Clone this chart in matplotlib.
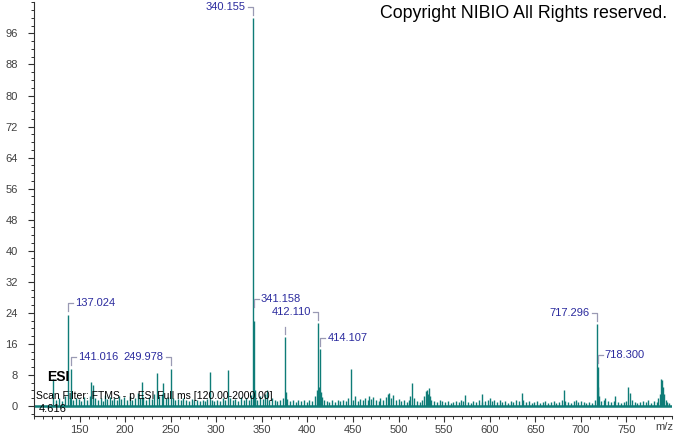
"""
Mass spectrum (ESI-) redrawn as a stick plot
"""

import matplotlib
matplotlib.use('Agg')
import matplotlib.pyplot as plt
from matplotlib.ticker import MultipleLocator, FixedLocator
from matplotlib.lines import Line2D
from matplotlib.transforms import IdentityTransform

# spectrum sticks (m/z, relative abundance)
mz = [121, 124, 127, 131, 134, 137.024, 139, 141.016, 143, 146, 149, 152, 155, 158,
      161, 163, 165, 167, 170, 173, 176, 178, 180, 183, 186, 188, 191, 193, 196, 199,
      202, 205, 208, 211, 214, 216, 218, 220, 223, 226, 229, 232, 235, 237, 240, 242,
      245, 247, 249.978, 252, 255, 258, 261, 264, 267, 270, 273, 276, 279, 282, 285,
      288, 290, 293, 295, 298, 301, 304, 307, 310, 313, 315, 318, 321, 324, 327, 330,
      333, 336, 338, 340.155, 341.158, 342, 343, 345, 348, 351, 353, 356, 358, 361,
      364, 367, 370, 373, 375.5, 376.5, 378, 381, 384, 387, 390, 393, 396, 399, 402,
      405, 408, 410, 412.110, 413, 414.107, 415, 416, 418, 421, 424, 427, 430, 433,
      436, 439, 442, 444, 447.5, 450, 452, 455, 458, 461, 463, 466, 468, 470, 472, 475,
      478, 480, 483, 486, 488, 490, 492, 494, 497, 500, 503, 506, 509, 511, 513, 515,
      517, 520, 523, 526, 528, 530, 531, 532, 533, 534, 536, 539, 542, 545, 548, 551,
      554, 557, 560, 563, 566, 569, 571, 573, 576, 579, 582, 585, 588, 591, 592, 595,
      598, 600, 602, 605, 608, 611, 614, 617, 620, 623, 626, 629, 632, 635, 637, 640,
      643, 646, 649, 652, 655, 658, 661, 664, 667, 670, 673, 676, 679, 681, 683, 686,
      689, 692, 695, 697, 700, 703, 706, 709, 712, 715, 717.296, 718.300, 719, 720,
      722, 725, 727, 730, 733, 736, 738, 741, 744, 747, 750, 752, 754, 756, 759, 762,
      765, 768, 771, 774, 777, 780, 783, 785, 787, 788, 789, 790, 791, 793, 795, 797]
intensity = [7.0, 1.5, 2.0, 1.2, 2.5, 23.4, 2.0, 9.5, 1.5, 2.0, 1.8, 1.2, 2.2, 1.5,
             2.5, 6.2, 5.5, 2.0, 1.4, 2.0, 1.2, 2.8, 1.8, 2.2, 1.5, 2.0, 1.5, 2.6, 1.8, 2.2,
             1.5, 2.5, 1.6, 2.0, 3.2, 2.0, 6.2, 2.4, 1.6, 2.2, 1.8, 3.0, 8.6, 2.5, 3.0, 5.8,
             2.0, 2.4, 9.5, 2.0, 1.6, 1.8, 1.4, 2.0, 1.5, 1.2, 1.8, 1.4, 1.6, 1.2, 1.5,
             1.2, 1.8, 8.8, 1.5, 1.2, 1.6, 1.3, 2.0, 1.5, 9.2, 2.0, 1.4, 1.8, 1.2, 2.2, 1.5,
             2.0, 1.6, 2.8, 100.0, 22.0, 4.0, 2.0, 1.5, 2.5, 1.8, 3.0, 4.0, 1.5, 2.0,
             1.5, 1.2, 1.6, 2.0, 17.7, 3.5, 1.8, 1.2, 1.5, 1.0, 1.4, 1.2, 1.6, 1.0, 1.5,
             1.2, 2.5, 4.0, 21.4, 5.0, 14.7, 3.5, 2.2, 1.5, 1.2, 1.0, 1.4, 1.0, 1.5,
             1.2, 1.6, 1.2, 2.0, 9.5, 1.5, 2.5, 1.2, 1.8, 1.5, 2.0, 1.4, 2.6, 1.8, 2.2, 1.5,
             1.2, 2.0, 1.4, 2.2, 3.0, 3.4, 2.0, 2.8, 1.5, 1.8, 1.2, 1.5, 1.0, 1.6, 2.5, 6.0,
             2.0, 1.2, 1.0, 1.5, 2.5, 3.8, 4.2, 3.0, 4.5, 2.5, 1.5, 1.2, 1.0, 1.5, 1.2, 1.0,
             1.2, 0.8, 1.0, 1.2, 1.0, 1.6, 1.2, 2.8, 1.0, 0.8, 1.2, 1.0, 1.5, 1.0, 3.0, 1.2,
             1.6, 2.0, 1.2, 1.5, 1.0, 1.4, 1.0, 1.2, 0.8, 1.2, 1.0, 1.4, 1.2, 3.2, 1.6, 1.0,
             1.2, 0.8, 1.0, 1.3, 0.8, 1.0, 1.2, 0.8, 1.0, 1.2, 0.8, 1.0, 1.5, 4.1, 1.2, 1.0,
             0.8, 1.2, 1.4, 1.0, 1.2, 1.0, 0.8, 1.0, 0.8, 1.5, 21.0, 10.0, 5.0, 2.5,
             1.2, 1.5, 2.0, 1.2, 1.0, 1.2, 2.5, 1.0, 0.8, 1.0, 1.2, 5.0, 3.3, 1.5, 1.0, 0.8,
             1.0, 1.2, 1.0, 1.4, 0.8, 1.2, 1.0, 2.0, 3.0, 7.0, 6.8, 5.0, 3.0, 1.5, 1.0, 0.8]

# labelled peaks: 'L' = text left of the peak, 'R' = text right of the peak
label_mz = [340.155, 137.024, 141.016, 249.978, 341.158, 412.110, 414.107, 717.296, 718.300]
label_int = [100.0, 23.4, 9.5, 9.5, 22.0, 21.4, 14.7, 21.0, 10.0]
label_side = ['L', 'R', 'R', 'L', 'R', 'L', 'R', 'L', 'R']
label_lift = [11, 12, 12, 12, 22, 11, 11, 11, 12]   # pixels above the peak top
# peak flagged without a visible label
flag_mz = [375.5]
flag_int = [17.7]

STICK = '#0e7c77'
LABEL = '#2b2b9e'
BRACKET = '#9a9ab4'
TICKTXT = '#404040'
FONT = 'Liberation Sans'

fig = plt.figure(figsize=(6.74, 4.34), dpi=100)
ax = fig.add_axes([34 / 674, 18 / 434, 638 / 674, 414 / 434])

ax.vlines(mz, 0, intensity, color=STICK, linewidth=1.0)
ax.axhline(0, color=STICK, linewidth=1.8, zorder=1)

ax.set_xlim(100, 800)
ax.set_ylim(-2.6, 104.1)

ax.xaxis.set_major_locator(FixedLocator(list(range(150, 751, 50))))
ax.xaxis.set_minor_locator(MultipleLocator(10))
ax.yaxis.set_major_locator(MultipleLocator(8))
ax.yaxis.set_minor_locator(MultipleLocator(2))
ax.set_yticks(list(range(0, 97, 8)))

for side in ['top', 'right']:
    ax.spines[side].set_visible(False)
for side in ['left', 'bottom']:
    ax.spines[side].set_color('#303030')
    ax.spines[side].set_linewidth(0.8)

ax.tick_params(axis='both', which='major', length=4.5, width=0.8, color='#303030',
               labelsize=8, labelcolor=TICKTXT)
ax.tick_params(axis='both', which='minor', length=2.5, width=0.7, color='#303030')
ax.tick_params(axis='y', which='major', pad=7)
ax.tick_params(axis='x', which='major', pad=2)
for lab in ax.get_xticklabels() + ax.get_yticklabels():
    lab.set_fontfamily(FONT)

# peak labels with bracket
fig.canvas.draw()
for x, h, side, lift in zip(label_mz, label_int, label_side, label_lift):
    px, py = ax.transData.transform((x, h))
    sgn = -1 if side == 'L' else 1
    start = max(3, lift - 8)
    ax.add_line(Line2D([px, px, px + sgn * 5], [py + start, py + lift, py + lift],
                       transform=IdentityTransform(), color=BRACKET, linewidth=0.9,
                       clip_on=False))
    ax.annotate(f'{x:.3f}', xy=(x, h), xytext=(sgn * 7, lift), textcoords='offset pixels',
                ha='right' if side == 'L' else 'left', va='center',
                fontsize=8, color=LABEL, fontfamily=FONT)
for x, h in zip(flag_mz, flag_int):
    px, py = ax.transData.transform((x, h))
    ax.add_line(Line2D([px, px], [py + 3, py + 10], transform=IdentityTransform(),
                       color=BRACKET, linewidth=0.9, clip_on=False))

fig.text(667 / 674, 1 - 14 / 434, 'Copyright NIBIO All Rights reserved.', ha='right',
         va='center', fontsize=12.8, color='black', fontfamily=FONT)
fig.text(47 / 674, 1 - 377 / 434, 'ESI', ha='left', va='center', fontsize=10,
         fontweight='bold', color='black', fontfamily=FONT)
fig.text(36 / 674, 1 - 396 / 434, 'Scan Filter: FTMS - p ESI Full ms [120.00-2000.00]',
         ha='left', va='center', fontsize=7.5, color='black', fontfamily=FONT)
fig.text(39 / 674, 1 - 409 / 434, '4.616', ha='left', va='center', fontsize=8,
         color='black', fontfamily=FONT)
fig.text(664 / 674, 1 - 427 / 434, 'm/z', ha='center', va='center', fontsize=8,
         color=TICKTXT, fontfamily=FONT)

fig.savefig('out.png', dpi=100)
